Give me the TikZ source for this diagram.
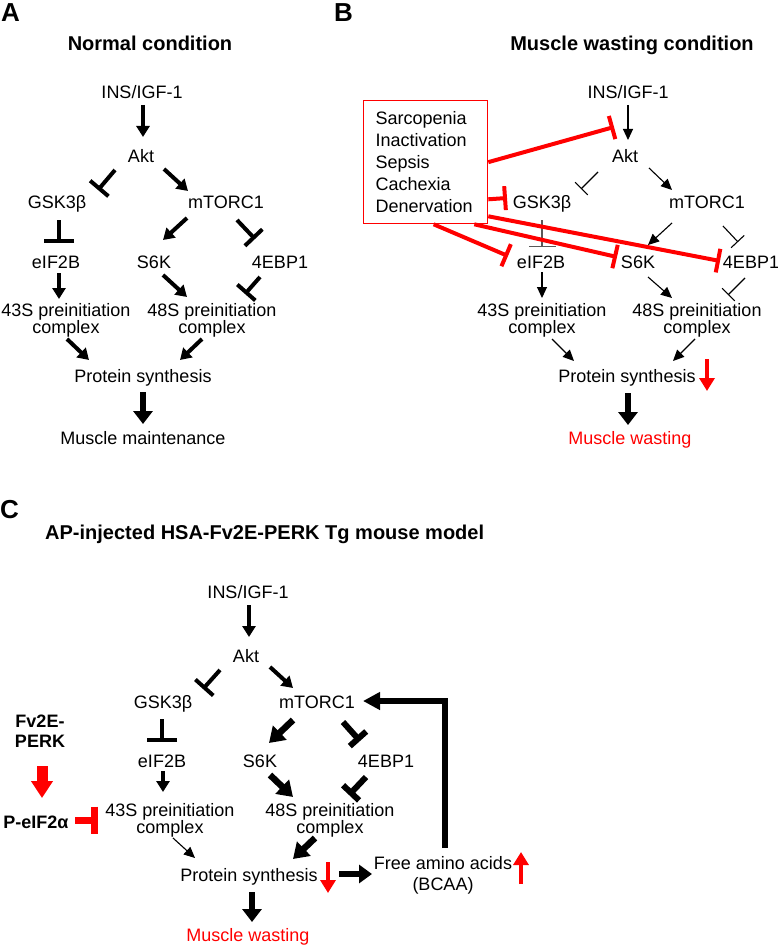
\documentclass[tikz,border=0pt]{standalone}
\usepackage{fontspec}
\setmainfont{Liberation Sans}
\usetikzlibrary{arrows.meta,calc}
\newcommand\labfont{\fontsize{18}{17}\selectfont\lineskiplimit=-30pt\relax}
\begin{document}
\begin{tikzpicture}[x=1pt,y=-1pt,
  lab/.style={font=\labfont, inner sep=0pt, anchor=base},
  cplx/.style={lab, align=center},
  ttl/.style={font=\fontsize{20}{24}\selectfont\bfseries, inner sep=0pt, anchor=base},
  pl/.style={font=\fontsize{26}{30}\selectfont\bfseries, inner sep=0pt, anchor=base west},
  ar/.style={line width=4pt, -{Triangle[width=13pt,length=11pt]}},
  arbig/.style={line width=6pt, -{Triangle[width=19pt,length=13pt]}},
  arthk/.style={line width=6.5pt, -{Triangle[width=19pt,length=15pt]}},
  arthin/.style={line width=1.1pt, -{Triangle[width=10pt,length=11pt]}},
  inh/.style={line width=4pt, -{Bar[width=24pt]}},
  inhthk/.style={line width=6pt, -{Bar[width=22pt]}},
  inhthin/.style={line width=1.1pt, -{Bar[width=18pt]}},
  rinh/.style={line width=4pt, red, -{Bar[width=24pt]}},
  rind/.style={line width=4pt, red, -{Triangle[width=15pt,length=13pt]}},
]
\useasboundingbox[fill=white] (0,0) rectangle (778,947);

% ---------------- Panel A ----------------
\node[pl] (pA) at (1,22) {A};
\node[ttl] (tA) at (150,51) {Normal condition};
\node[lab] (insA) at (142,99) {INS/IGF-1};
\node[lab] (aktA) at (141,162) {Akt};
\node[lab] (gskA) at (57,208) {GSK3β};
\node[lab] (mtorA) at (226,208) {mTORC1};
\node[lab] (eifA) at (56,268) {eIF2B};
\node[lab] (s6kA) at (154,268) {S6K};
\node[lab] (ebpA) at (280,268) {4EBP1};
\node[cplx] (c43A) at (66,333) {43S preinitiation\\complex};
\node[cplx] (c48A) at (212,333) {48S preinitiation\\complex};
\node[lab] (psA) at (143,382) {Protein synthesis};
\node[lab] (mmA) at (143,444) {Muscle maintenance};

\draw[ar] ($(insA.base)+(1,6)$) -- ($(aktA.base)+(2,-25)$);
\draw[inh] ($(aktA.base)+(-26,8)$) -- ($(gskA.base)+(41,-18)$);
\draw[ar] ($(aktA.base)+(23,7)$) -- ($(mtorA.base)+(-38,-17)$);
\draw[inh, -{Bar[width=30pt]}] ($(gskA.base)+(2,12)$) -- ($(eifA.base)+(3,-25)$);
\draw[ar] ($(mtorA.base)+(-39,10)$) -- ($(s6kA.base)+(9,-28)$);
\draw[inh] ($(mtorA.base)+(11,12)$) -- ($(ebpA.base)+(-25,-29)$);
\draw[ar] ($(eifA.base)+(3,5)$) -- ($(c43A.base)+(-7,-34)$);
\draw[ar] ($(s6kA.base)+(9,7)$) -- ($(c48A.base)+(-25,-36)$);
\draw[inh] ($(ebpA.base)+(-20,9)$) -- ($(c48A.base)+(33,-39)$);
\draw[ar] ($(c43A.base)+(1,6)$) -- ($(psA.base)+(-54,-22)$);
\draw[ar] ($(c48A.base)+(-10,6)$) -- ($(psA.base)+(37,-22)$);
\draw[arbig] ($(psA.base)+(0,10)$) -- ($(mmA.base)+(0,-20)$);

% ---------------- Panel B ----------------
\node[pl] (pB) at (334,22) {B};
\node[ttl] (tB) at (632,51) {Muscle wasting condition};
\node[lab] (insB) at (628,99) {INS/IGF-1};
\node[lab] (aktB) at (625,162) {Akt};
\node[lab] (gskB) at (542,208) {GSK3β};
\node[lab] (mtorB) at (707,208) {mTORC1};
\node[lab] (eifB) at (541,268) {eIF2B};
\node[lab] (s6kB) at (638,268) {S6K};
\node[lab] (ebpB) at (751,268) {4EBP1};
\node[cplx] (c43B) at (542,333) {43S preinitiation\\complex};
\node[cplx] (c48B) at (697,333) {48S preinitiation\\complex};
\node[lab] (psB) at (627,382) {Protein synthesis};
\node[lab, text=red] (mwB) at (630,444) {Muscle wasting};
\node[draw=red, line width=1.3pt, text width=100pt, align=left, inner xsep=12pt,
      inner ysep=0pt, minimum height=123pt, anchor=north west,
      font=\fontsize{18}{22}\selectfont] (box) at (363,100)
      {Sarcopenia\\Inactivation\\Sepsis\\Cachexia\\Denervation};

\draw[arthin] ($(insB.base)+(0,6)$) -- ($(aktB.base)+(3,-22)$);
\draw[inhthin] ($(aktB.base)+(-27,10)$) -- ($(gskB.base)+(39,-19)$);
\draw[arthin] ($(aktB.base)+(24,6)$) -- ($(mtorB.base)+(-35,-18)$);
\draw[inhthin, black!65, -{Bar[width=27pt]}] ($(gskB.base)+(0,12)$) -- ($(eifB.base)+(1,-21)$);
\draw[arthin] ($(mtorB.base)+(-35,15)$) -- ($(s6kB.base)+(10,-23)$);
\draw[inhthin] ($(mtorB.base)+(16,18)$) -- ($(ebpB.base)+(-13,-26)$);
\draw[arthin] ($(eifB.base)+(1,4)$) -- ($(c43B.base)+(0,-35)$);
\draw[arthin] ($(s6kB.base)+(10,9)$) -- ($(c48B.base)+(-25,-35)$);
\draw[inhthin] ($(ebpB.base)+(-6,10)$) -- ($(c48B.base)+(31,-38)$);
\draw[arthin] ($(c43B.base)+(10,6)$) -- ($(psB.base)+(-53,-21)$);
\draw[arthin] ($(c48B.base)+(-2,6)$) -- ($(psB.base)+(46,-21)$);
\draw[arbig] ($(psB.base)+(1,11)$) -- ($(mwB.base)+(-2,-19)$);

\draw[rinh] (box.east) -- ($(aktB.base)+(-11,-35)$);
\draw[rinh] ($(box.south east)+(0,-25)$) -- ($(gskB.base)+(-35,-10)$);
\draw[rinh] ($(box.south)+(8,0)$) -- ($(eifB.base)+(-33,-12)$);
\draw[rinh] ($(box.south east)+(-14,0)$) -- ($(s6kB.base)+(-21,-11)$);
\draw[rinh] ($(box.south east)+(0,-8)$) -- ($(ebpB.base)+(-31,-7)$);

\coordinate (dnB) at ($(psB.base)+(80,-23)$);
\draw[rind] (dnB) -- ++(0,32);

% ---------------- Panel C ----------------
\node[pl] (pC) at (0,518) {C};
\node[ttl, anchor=base west] (tC) at (45,539) {AP-injected HSA-Fv2E-PERK Tg mouse model};
\node[lab] (insC) at (248,598) {INS/IGF-1};
\node[lab] (aktC) at (246,662) {Akt};
\node[lab] (gskC) at (163,708) {GSK3β};
\node[lab] (mtorC) at (317,708) {mTORC1};
\node[lab] (eifC) at (162,767) {eIF2B};
\node[lab] (s6kC) at (260,767) {S6K};
\node[lab] (ebpC) at (386,767) {4EBP1};
\node[cplx] (c43C) at (170,833) {43S preinitiation\\complex};
\node[cplx] (c48C) at (330,833) {48S preinitiation\\complex};
\node[lab] (psC) at (249,881) {Protein synthesis};
\node[lab, align=center, font=\fontsize{18}{21}\selectfont] (faa) at (443,890) {Free amino acids\\(BCAA)};
\node[lab, text=red] (mwC) at (248,941) {Muscle wasting};
\node[lab, align=center, font=\fontsize{18}{20}\selectfont\bfseries] (fv2e) at (40,747) {Fv2E-\\PERK};
\node[lab, font=\fontsize{18}{20}\selectfont\bfseries] (pe) at (36,828) {P-eIF2α};

\draw[ar] ($(insC.base)+(1,7)$) -- ($(aktC.base)+(3,-25)$);
\draw[inh] ($(aktC.base)+(-26,8)$) -- ($(gskC.base)+(40,-19)$);
\draw[ar] ($(aktC.base)+(24,5)$) -- ($(mtorC.base)+(-24,-20)$);
\draw[inh, -{Bar[width=30pt]}] ($(gskC.base)+(-1,11)$) -- ($(eifC.base)+(0,-25)$);
\draw[arthk] ($(mtorC.base)+(-24,12)$) -- ($(s6kC.base)+(9,-24)$);
\draw[inhthk] ($(mtorC.base)+(26,14)$) -- ($(ebpC.base)+(-26,-26)$);
\draw[ar] ($(eifC.base)+(1,4)$) -- ($(c43C.base)+(-7,-41)$);
\draw[arthk] ($(s6kC.base)+(10,8)$) -- ($(c48C.base)+(-37,-36)$);
\draw[inhthk] ($(ebpC.base)+(-20,10)$) -- ($(c48C.base)+(19,-38)$);
\draw[arthin] ($(c43C.base)+(3,5)$) -- ($(psC.base)+(-54,-23)$);
\draw[arthk] ($(c48C.base)+(-15,5)$) -- ($(psC.base)+(44,-22)$);
\draw[arbig] ($(psC.base)+(3,11)$) -- ($(mwC.base)+(4,-19)$);
\draw[line width=6.5pt, -{Triangle[width=18pt,length=13pt]}] ($(psC.base)+(90,-7)$) -- ($(faa.base)+(-71,-16)$);
\draw[line width=5.5pt, -{Triangle[width=17pt,length=17pt]}] ($(faa.base)+(2,-42)$) |- ($(mtorC.base)+(46,-7)$);
\draw[line width=11pt, red, -{Triangle[width=21pt,length=17pt]}] ($(fv2e.south)+(2,19)$) -- ($(pe.base)+(6,-30)$);
\draw[line width=7pt, red, -{Bar[width=27pt]}] ($(pe.base)+(39,-8)$) -- ($(c43C.base)+(-72,-13)$);

\coordinate (dnC) at ($(psC.base)+(79,-19)$);
\draw[rind] (dnC) -- ++(0,31);
\coordinate (upC) at ($(faa.base)+(78,-6)$);
\draw[rind] (upC) -- ++(0,-32);
\end{tikzpicture}
\end{document}
